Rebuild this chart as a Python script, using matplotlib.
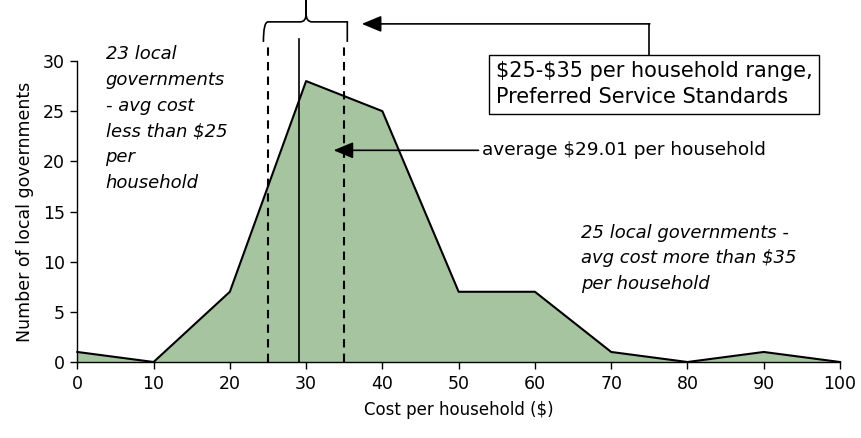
import matplotlib.pyplot as plt
from matplotlib.path import Path
from matplotlib.patches import PathPatch

plt.rcParams['text.parse_math'] = False

# Cost bins ($ per household) and number of local governments in each
cost = [0, 10, 20, 30, 40, 50, 60, 70, 80, 90, 100]
governments = [1, 0, 7, 28, 25, 7, 7, 1, 0, 1, 0]

range_low = 25
range_high = 35
average_cost = 29.01

fig = plt.figure(figsize=(8.61, 4.38), dpi=100)
ax = fig.add_axes([0.0898, 0.1735, 0.8858, 0.6872])

ax.fill_between(cost, governments, 0, color='#a6c4a0', lw=0)
ax.plot(cost, governments, color='black', lw=1.5, clip_on=False, zorder=3)

ax.set_xlim(0, 100)
ax.set_ylim(0, 30)
ax.set_xticks(range(0, 101, 10))
ax.set_yticks(range(0, 31, 5))
for s in ['top', 'right']:
    ax.spines[s].set_visible(False)
for s in ['left', 'bottom']:
    ax.spines[s].set_linewidth(1)
ax.tick_params(direction='out', length=5, width=1, labelsize=12.5, pad=4)

ax.set_xlabel('Cost per household ($)', fontsize=12, labelpad=6)
ax.set_ylabel('Number of local governments', fontsize=12.5, labelpad=6)

# preferred range and average lines
ax.plot([range_low, range_low], [0, 31.6], color='black', lw=1.5, ls=(0, (4, 3)), clip_on=False)
ax.plot([range_high, range_high], [0, 31.6], color='black', lw=1.5, ls=(0, (4, 3)), clip_on=False)
ax.plot([average_cost, average_cost], [0, 32.2], color='black', lw=1.2, clip_on=False)

# curly brace over the range
mid = (range_low + range_high) / 2
verts = [(range_low - 0.6, 31.9), (range_low - 0.6, 33.9), (range_low, 33.9), (range_low + 0.5, 33.9),
         (mid - 0.8, 33.9), (mid, 33.9), (mid, 34.7),
         (mid, 36.1), (mid, 34.7),
         (mid, 33.9), (mid + 0.8, 33.9),
         (range_high - 0.5, 33.9), (range_high, 33.9), (range_high + 0.4, 33.9), (range_high + 0.4, 31.9)]
codes = [Path.MOVETO, Path.CURVE3, Path.CURVE3, Path.LINETO,
         Path.LINETO, Path.CURVE3, Path.CURVE3,
         Path.LINETO, Path.LINETO,
         Path.CURVE3, Path.CURVE3,
         Path.LINETO, Path.CURVE3, Path.CURVE3, Path.LINETO]
ax.add_patch(PathPatch(Path(verts, codes), fill=False, lw=1.2, ec='black', clip_on=False))

# box annotation with elbow arrow
ax.text(54.9, 27.7, '$25-$35 per household range,\nPreferred Service Standards',
        fontsize=15, va='center', ha='left', linespacing=1.35,
        bbox=dict(boxstyle='square,pad=0.32', fc='white', ec='black', lw=1))
ax.plot([75.0, 75.0], [30.6, 33.7], color='black', lw=1.2, clip_on=False)
ax.annotate('', xy=(37.3, 33.7), xytext=(75.06, 33.7), annotation_clip=False,
            arrowprops=dict(arrowstyle='-|>,head_length=1.2,head_width=0.5',
                            color='black', lw=1.2, shrinkA=0, shrinkB=0))

# average arrow
ax.annotate('', xy=(33.6, 21.1), xytext=(52.6, 21.1), annotation_clip=False,
            arrowprops=dict(arrowstyle='-|>,head_length=1.2,head_width=0.5',
                            color='black', lw=1.2, shrinkA=0, shrinkB=0))
ax.text(53.0, 21.1, 'average $29.01 per household', fontsize=13.3, va='center', ha='left')

ax.text(3.7, 31.6, '23 local\ngovernments\n- avg cost\nless than $25\nper\nhousehold',
        fontsize=13, style='italic', va='top', ha='left', linespacing=1.56)
ax.text(66.0, 13.8, '25 local governments -\navg cost more than $35\nper household',
        fontsize=13, style='italic', va='top', ha='left', linespacing=1.56)

fig.savefig('out.png', dpi=100)
